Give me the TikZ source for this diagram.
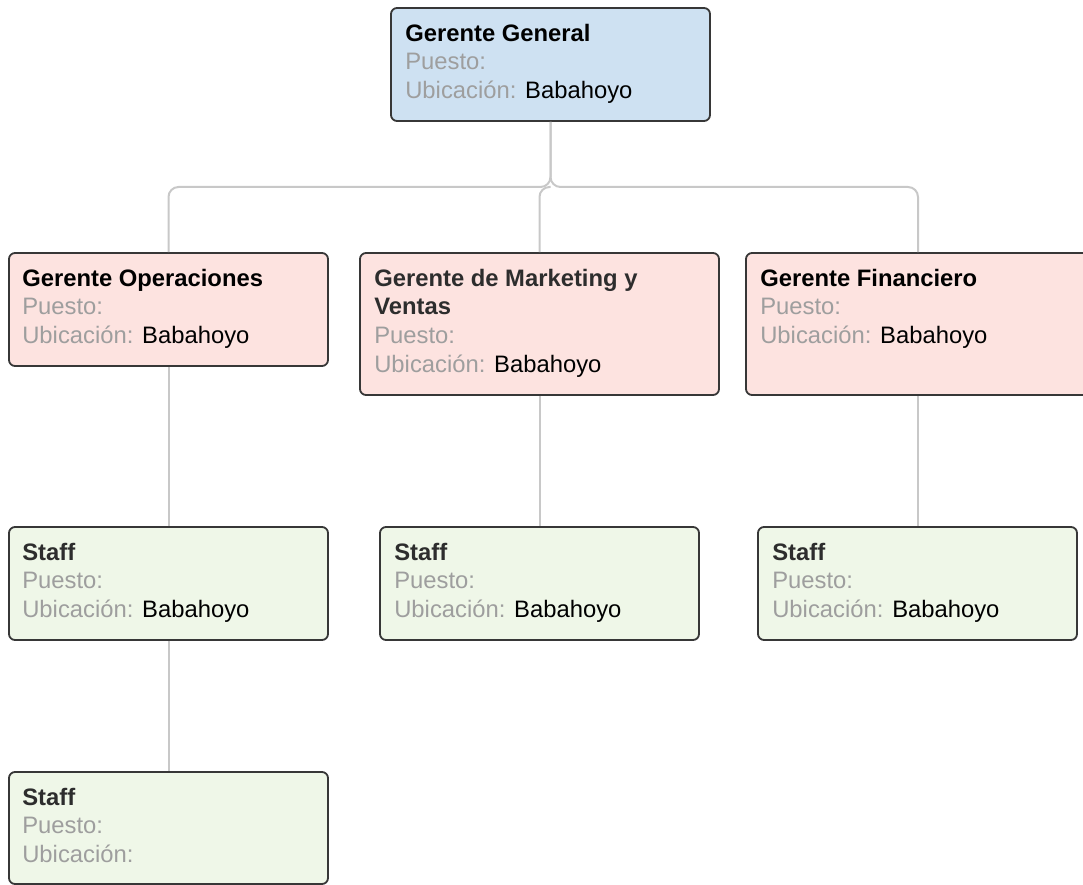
\documentclass[tikz,border=0pt]{standalone}
\usepackage{fontspec}
\setmainfont{Liberation Sans}
\usetikzlibrary{calc}
\definecolor{bluefill}{RGB}{206,225,242}
\definecolor{pinkfill}{RGB}{253,227,224}
\definecolor{greenfill}{RGB}{239,247,232}
\definecolor{boxborder}{RGB}{55,55,55}
\definecolor{conncol}{RGB}{200,200,200}
\definecolor{lbl}{RGB}{158,158,158}
\definecolor{ttl}{RGB}{0,0,0}
\definecolor{ttlgray}{RGB}{45,45,45}
\tikzset{
  card/.style={draw=boxborder, line width=1.8pt, rounded corners=6pt, inner sep=0pt},
  cardblue/.style={card, fill=bluefill},
  cardpink/.style={card, fill=pinkfill},
  cardgreen/.style={card, fill=greenfill},
  txt/.style={anchor=north west, inner sep=0pt, align=left,
    font=\fontsize{23.8pt}{28.6pt}\selectfont},
  conn/.style={draw=conncol, line width=2pt, rounded corners=10pt},
}
\newcommand{\ttlline}[2][ttl]{\rule{0pt}{18pt}\textcolor{#1}{\bfseries #2}}
\newcommand{\lb}[1]{\textcolor{lbl}{#1}}
\begin{document}
\begin{tikzpicture}[x=1pt,y=-1pt]
\useasboundingbox (0,0) rectangle (1083,885);
\clip (0,0) rectangle (1083,885);
\coordinate (bus) at (0,187);
% boxes
\node[cardblue, minimum width=319pt, minimum height=113pt] (gg) at (550.5,64.5) {};
\node[cardpink, minimum width=319pt, minimum height=113pt] (op) at (168.5,309.5) {};
\node[cardpink, minimum width=359pt, minimum height=142pt] (mk) at (539.5,324) {};
\node[cardpink, minimum width=344pt, minimum height=142pt] (fn) at (918,324) {};
\node[cardgreen, minimum width=319pt, minimum height=113pt] (s1) at (168.5,583.5) {};
\node[cardgreen, minimum width=319pt, minimum height=113pt] (s2) at (539.5,583.5) {};
\node[cardgreen, minimum width=319pt, minimum height=113pt] (s3) at (917.5,583.5) {};
\node[cardgreen, minimum width=319pt, minimum height=112pt] (s4) at (168.5,828) {};
% texts
\node[txt] (gg-t) at ($(gg.north west)+(15,16)$) {\ttlline{Gerente General}\\ \lb{Puesto:}\\ \lb{Ubicación:} Babahoyo};
\node[txt] (op-t) at ($(op.north west)+(14,16)$) {\ttlline{Gerente Operaciones}\\ \lb{Puesto:}\\ \lb{Ubicación:} Babahoyo};
\node[txt] (mk-t) at ($(mk.north west)+(15,16)$) {\ttlline[ttlgray]{Gerente de Marketing y}\\ \ttlline[ttlgray]{Ventas}\\ \lb{Puesto:}\\ \lb{Ubicación:} Babahoyo};
\node[txt] (fn-t) at ($(fn.north west)+(15,16)$) {\ttlline{Gerente Financiero}\\ \lb{Puesto:}\\ \lb{Ubicación:} Babahoyo};
\node[txt] (s1-t) at ($(s1.north west)+(14,16)$) {\ttlline[ttlgray]{Staff}\\ \lb{Puesto:}\\ \lb{Ubicación:} Babahoyo};
\node[txt] (s2-t) at ($(s2.north west)+(15,16)$) {\ttlline[ttlgray]{Staff}\\ \lb{Puesto:}\\ \lb{Ubicación:} Babahoyo};
\node[txt] (s3-t) at ($(s3.north west)+(15,16)$) {\ttlline[ttlgray]{Staff}\\ \lb{Puesto:}\\ \lb{Ubicación:} Babahoyo};
\node[txt] (s4-t) at ($(s4.north west)+(14,16)$) {\ttlline[ttlgray]{Staff}\\ \lb{Puesto:}\\ \lb{Ubicación:}};
% connectors
\draw[conn] (gg.south) -- (gg.south |- bus) -| (op.north);
\draw[conn] (gg.south) -- (gg.south |- bus) -| (fn.north);
\draw[conn] (gg.south |- bus) -| (mk.north);
\draw[conn, rounded corners=0pt] (op.south) -- (s1.north);
\draw[conn, rounded corners=0pt] (mk.south) -- (s2.north);
\draw[conn, rounded corners=0pt] (s3.north |- fn.south) -- (s3.north);
\draw[conn, rounded corners=0pt] (s1.south) -- (s4.north);
\end{tikzpicture}
\end{document}
